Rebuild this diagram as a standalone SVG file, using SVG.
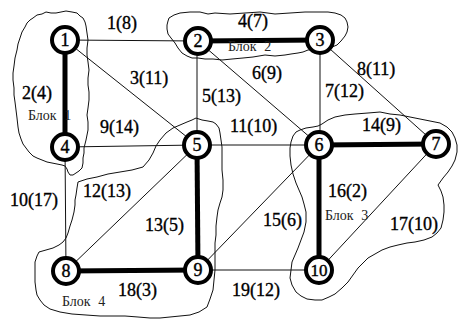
<svg xmlns="http://www.w3.org/2000/svg" width="460" height="321" viewBox="0 0 460 321">
  <style>
    .blob { fill: none; stroke: #111; stroke-width: 1; stroke-linejoin: round; }
    .thin { stroke: #111; stroke-width: 1; fill: none; }
    .thick { stroke: #000; stroke-width: 5; fill: none; }
    .node circle { fill: #fff; stroke: #000; stroke-width: 4; }
    .node text { font-family: "Liberation Serif", "Times New Roman", serif; font-size: 18px; text-anchor: middle; fill: #000; stroke: #000; stroke-width: 0.4px; }
    .lbl { font-family: "Liberation Serif", "Times New Roman", serif; font-size: 18px; fill: #000; stroke: #000; stroke-width: 0.35px; }
    .blk { font-family: "Liberation Serif", "Times New Roman", serif; font-size: 14px; fill: #222; word-spacing: 4px; }
  </style>

  <!-- block outlines (hand-drawn contours) -->
  <g id="blocks">
    <path class="blob" d="M30,20 L33,18 L37,15 L42,14 L46,12 L51,13 L56,13 L61,12 L66,11 L72,12 L77,13 L80,16 L83,18 L85,22 L86,26 L87,33 L88,40 L87,48 L87,55 L88,62 L89,70 L88,78 L88,85 L89,92 L89,100 L88,108 L87,115 L88,122 L88,130 L87,135 L86,140 L85,144 L84,148 L84,153 L83,158 L83,163 L82,168 L79,171 L76,173 L73,175 L70,175 L68,172 L67,169 L65,166 L62,165 L57,164 L52,163 L47,162 L42,160 L37,158 L33,156 L29,152 L26,148 L23,144 L21,139 L19,133 L18,127 L17,118 L16,110 L15,102 L14,95 L14,88 L13,80 L13,73 L14,66 L15,58 L17,50 L18,44 L20,38 L22,32 L25,27 L27,23 Z"/>
    <path class="blob" d="M169,18 L174,15 L180,13 L190,12 L200,12 L208,14 L215,13 L230,14 L245,13 L260,12 L275,14 L290,13 L305,12 L320,12 L328,12 L335,13 L341,15 L345,18 L347,22 L348,27 L347,32 L345,36 L341,41 L337,45 L332,47 L327,49 L317,49 L308,50 L303,52 L298,53 L291,54 L285,55 L275,56 L265,55 L253,57 L243,58 L232,59 L222,60 L213,59 L205,59 L198,58 L192,58 L187,56 L182,53 L178,48 L175,43 L171,38 L168,34 L167,29 L167,25 L168,21 Z"/>
    <path class="blob" d="M300,130 L306,128 L313,127 L318,126 L322,124 L328,120 L335,117 L345,115 L355,114 L368,113 L380,112 L390,114 L400,115 L410,117 L420,119 L430,121 L440,123 L447,127 L452,132 L455,138 L457,145 L457,152 L455,160 L452,166 L448,172 L443,178 L438,185 L441,191 L443,197 L444,205 L444,212 L443,220 L441,228 L437,233 L432,237 L424,240 L415,242 L407,243 L398,245 L390,247 L382,250 L375,254 L368,258 L363,263 L358,268 L353,275 L348,282 L342,288 L335,294 L329,297 L322,300 L315,300 L307,299 L301,296 L296,292 L292,285 L290,278 L291,270 L292,262 L295,255 L298,248 L301,240 L304,232 L306,222 L306,212 L304,204 L302,197 L299,190 L296,183 L293,174 L291,165 L290,156 L290,148 L291,142 L293,136 L296,132 Z"/>
    <path class="blob" d="M78,182 L87,179 L97,177 L108,174 L120,172 L132,170 L143,167 L149,160 L153,153 L156,146 L160,140 L166,133 L173,128 L180,125 L187,122 L192,120 L196,118 L202,120 L208,121 L213,122 L216,124 L219,128 L220,133 L221,140 L222,147 L222,158 L222,170 L223,180 L223,190 L222,197 L220,203 L218,210 L217,217 L216,226 L216,235 L215,243 L215,250 L215,260 L215,270 L214,280 L213,290 L210,299 L207,307 L199,312 L190,315 L180,316 L170,317 L160,318 L150,318 L138,317 L125,316 L112,316 L100,316 L86,315 L72,314 L60,312 L50,309 L44,305 L40,300 L37,295 L36,290 L35,282 L35,275 L35,268 L35,262 L37,256 L39,252 L46,250 L53,248 L59,245 L63,242 L66,238 L68,233 L70,226 L72,220 L74,212 L75,205 L75,200 L76,195 L77,188 Z"/>
  </g>

  <!-- connectors -->
  <g id="connectors">
    <line class="thin" x1="65" y1="40" x2="198" y2="41"/>
    <line class="thin" x1="65" y1="40" x2="197" y2="145"/>
    <line class="thin" x1="197" y1="41" x2="197" y2="145"/>
    <line class="thin" x1="198" y1="41" x2="319" y2="145"/>
    <line class="thin" x1="320" y1="40" x2="320" y2="145"/>
    <line class="thin" x1="320" y1="40" x2="436" y2="144"/>
    <line class="thin" x1="65" y1="147" x2="197" y2="145"/>
    <line class="thin" x1="65" y1="147" x2="66" y2="271"/>
    <line class="thin" x1="197" y1="145" x2="319" y2="145"/>
    <line class="thin" x1="197" y1="145" x2="66" y2="271"/>
    <line class="thin" x1="319" y1="145" x2="198" y2="270"/>
    <line class="thin" x1="436" y1="144" x2="319" y2="270"/>
    <line class="thin" x1="198" y1="270" x2="319" y2="270"/>
    <line class="thick" x1="65" y1="40" x2="65" y2="147"/>
    <line class="thick" x1="198" y1="41" x2="320" y2="40"/>
    <line class="thick" x1="197" y1="145" x2="198" y2="270"/>
    <line class="thick" x1="319" y1="145" x2="436" y2="144"/>
    <line class="thick" x1="319" y1="145" x2="319" y2="270"/>
    <line class="thick" x1="66" y1="271" x2="198" y2="270"/>
  </g>

  <!-- nodes -->
  <g id="n1" class="node"><circle cx="65" cy="40" r="13"/><text x="65" y="46">1</text></g>
  <g id="n2" class="node"><circle cx="198" cy="41" r="13"/><text x="198" y="47">2</text></g>
  <g id="n3" class="node"><circle cx="320" cy="40" r="13"/><text x="320" y="46">3</text></g>
  <g id="n4" class="node"><circle cx="65" cy="147" r="13"/><text x="65" y="153">4</text></g>
  <g id="n5" class="node"><circle cx="197" cy="145" r="13"/><text x="197" y="151">5</text></g>
  <g id="n6" class="node"><circle cx="319" cy="145" r="13"/><text x="319" y="151">6</text></g>
  <g id="n7" class="node"><circle cx="436" cy="144" r="13"/><text x="436" y="150">7</text></g>
  <g id="n8" class="node"><circle cx="66" cy="271" r="13"/><text x="66" y="277">8</text></g>
  <g id="n9" class="node"><circle cx="198" cy="270" r="13"/><text x="198" y="276">9</text></g>
  <g id="n10" class="node"><circle cx="319" cy="270" r="13"/><text x="319" y="276" style="font-size:17px">10</text></g>

  <!-- edge labels and block names -->
  <g id="labels">
    <text class="lbl" x="107" y="29">1(8)</text>
    <text class="lbl" x="22" y="99">2(4)</text>
    <text class="lbl" x="130" y="84">3(11)</text>
    <text class="lbl" x="238" y="27">4(7)</text>
    <text class="lbl" x="202" y="102">5(13)</text>
    <text class="lbl" x="252" y="79">6(9)</text>
    <text class="lbl" x="325" y="97">7(12)</text>
    <text class="lbl" x="357" y="75">8(11)</text>
    <text class="lbl" x="100" y="133">9(14)</text>
    <text class="lbl" x="10" y="206">10(17)</text>
    <text class="lbl" x="230" y="132">11(10)</text>
    <text class="lbl" x="83" y="197">12(13)</text>
    <text class="lbl" x="145" y="231">13(5)</text>
    <text class="lbl" x="362" y="131">14(9)</text>
    <text class="lbl" x="263" y="226">15(6)</text>
    <text class="lbl" x="328" y="197">16(2)</text>
    <text class="lbl" x="390" y="230">17(10)</text>
    <text class="lbl" x="118" y="296">18(3)</text>
    <text class="lbl" x="232" y="296">19(12)</text>
    <text class="blk" x="28" y="120">Блок 1</text>
    <text class="blk" x="228" y="51">Блок 2</text>
    <text class="blk" x="325" y="220">Блок 3</text>
    <text class="blk" x="62" y="306">Блок 4</text>
  </g>
</svg>
